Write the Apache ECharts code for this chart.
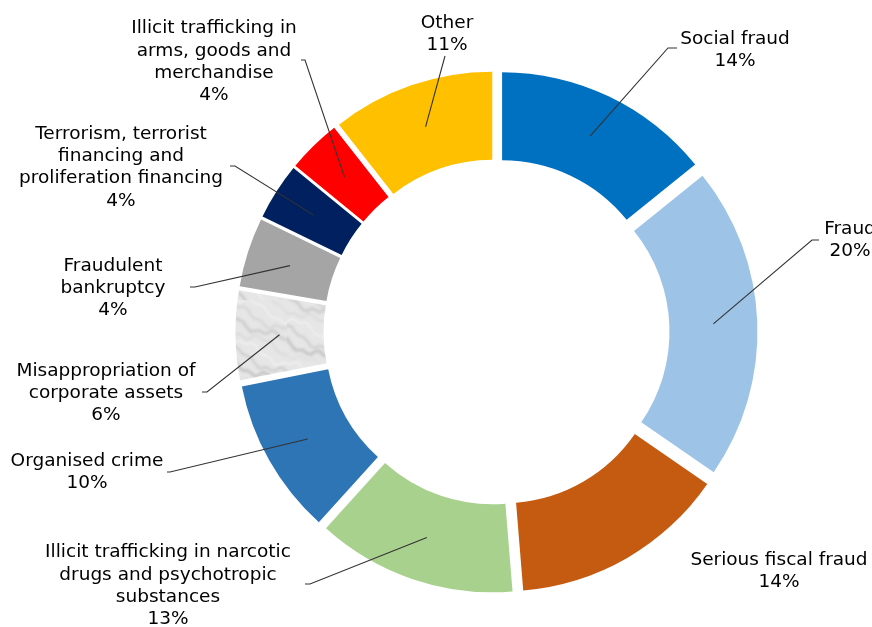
<!DOCTYPE html>
<html><head><meta charset="utf-8">
<script src="https://cdn.jsdelivr.net/npm/echarts@6/dist/echarts.min.js"></script>
<style>html,body{margin:0;padding:0;background:#fff}#c{width:872px;height:627px}</style>
</head><body><div id="c"></div>
<script>
// ---- data (clockwise from 12 o'clock) ----
const categories = [
  'Social fraud',
  'Fraud',
  'Serious fiscal fraud',
  'Illicit trafficking in narcotic\ndrugs and psychotropic\nsubstances',
  'Organised crime',
  'Misappropriation of\ncorporate assets',
  'Fraudulent\nbankruptcy',
  'Terrorism, terrorist\nfinancing and\nproliferation financing',
  'Illicit trafficking in\narms, goods and\nmerchandise',
  'Other'
];
// slice sizes as read from the ring (percent)
const shares = [14.2, 20.4, 14.1, 13.0, 10.2, 5.8, 4.5, 3.7, 3.5, 10.6];
// percentages as printed on the labels
const printedPercent = [14, 20, 14, 13, 10, 6, 4, 4, 4, 11];

// ---- styles ----
const colors = ['#0070C0', '#9DC3E6', '#C55A11', '#A9D18E', '#2E75B6', 'MARBLE', '#A5A5A5', '#002060', '#FF0000', '#FFC000'];
// annotation placement: label centre, leader-line bend point, short horizontal tick
const labelCenter = [[735, 50], [850, 240.5], [779, 571.5], [168, 586], [87, 472.5], [106, 393], [113, 288], [121, 167.5], [214, 62], [447, 34]];
const leaderBend  = [[668, 48], [812, 240], null, [310, 584], [170, 472], [207, 392], [195, 287], [235, 166], [305, 60], [445, 56]];
const leaderTick  = [9, 7, 0, -5, -3, -5, -5, -5, -4, 0];

const center = [496.5, 332];
const rInner = 160, rOuter = 248, explode = 13;
const anchorR = explode + (rInner + rOuter) / 2;

function marble() {
  const c = document.createElement('canvas');
  c.width = 100; c.height = 100;
  const g = c.getContext('2d');
  g.fillStyle = '#e6e6e6'; g.fillRect(0, 0, 100, 100);
  g.filter = 'blur(1.2px)';
  for (let k = 0; k < 18; k++) {
    g.beginPath();
    g.strokeStyle = (k % 4 === 1) ? 'rgba(252,252,252,0.6)' : 'rgba(100,100,100,' + (0.10 + 0.06 * (k % 3)) + ')';
    g.lineWidth = 0.8 + (k % 4) * 0.8;
    const off = k * 11 - 80;
    for (let t = -20; t <= 120; t += 4) {
      const y = off + t * 0.45 + 4 * Math.sin(t * 0.13 + k * 1.7) + 2 * Math.sin(t * 0.41 + k);
      if (t === -20) g.moveTo(t, y); else g.lineTo(t, y);
    }
    g.stroke();
  }
  return { image: c, repeat: 'repeat' };
}
const marbleFill = marble();
const font = 'DejaVu Sans, Verdana, sans-serif';

// mid-angle of each slice (from the data), for leader-line anchors
const total = shares.reduce((a, b) => a + b, 0);
const midAngles = [];
{ let cum = 0; shares.forEach(v => { midAngles.push((cum + v / 2) / total * 2 * Math.PI); cum += v; }); }

const chart = echarts.init(document.getElementById('c'), null, { renderer: 'canvas' });
chart.setOption({
  backgroundColor: '#ffffff',
  animation: false,
  series: [{
    type: 'pie',
    z: 1,
    center: center,
    radius: [rInner, rOuter],
    startAngle: 90,
    clockwise: true,
    selectedMode: 'multiple',
    selectedOffset: explode,
    silent: true,
    avoidLabelOverlap: false,
    itemStyle: { borderWidth: 0 },
    emphasis: { disabled: true },
    label: { show: false },
    labelLine: { show: false },
    data: categories.map((n, i) => {
      const col = colors[i] === 'MARBLE' ? marbleFill : colors[i];
      return {
        name: n, value: shares[i], selected: true,
        itemStyle: { color: col },
        select: { itemStyle: { color: col, borderWidth: 0 } }
      };
    })
  }, {
    type: 'pie',
    z: 10,
    center: center,
    radius: [0, 40],
    startAngle: 90,
    clockwise: true,
    silent: true,
    avoidLabelOverlap: false,
    itemStyle: { color: 'rgba(0,0,0,0)', borderWidth: 0 },
    emphasis: { disabled: true },
    label: {
      show: true, position: 'outside',
      formatter: p => p.name + '\n' + printedPercent[p.dataIndex] + '%',
      color: '#000', fontFamily: font, fontSize: 18.5, lineHeight: 22.3, align: 'center'
    },
    labelLine: { show: true, length: 10, length2: 10, lineStyle: { color: '#333333', width: 1.1 } },
    labelLayout: function (p) {
      const i = p.dataIndex;
      const res = { x: labelCenter[i][0], y: labelCenter[i][1], align: 'center', verticalAlign: 'middle', hideOverlap: false };
      if (leaderBend[i]) {
        const a = [center[0] + anchorR * Math.sin(midAngles[i]), center[1] - anchorR * Math.cos(midAngles[i])];
        const b = leaderBend[i];
        res.labelLinePoints = [a, b, [b[0] + leaderTick[i], b[1]]];
      }
      return res;
    },
    data: categories.map((n, i) => ({
      name: n, value: shares[i],
      labelLine: { show: leaderBend[i] !== null }
    }))
  }]
});
</script></body></html>
